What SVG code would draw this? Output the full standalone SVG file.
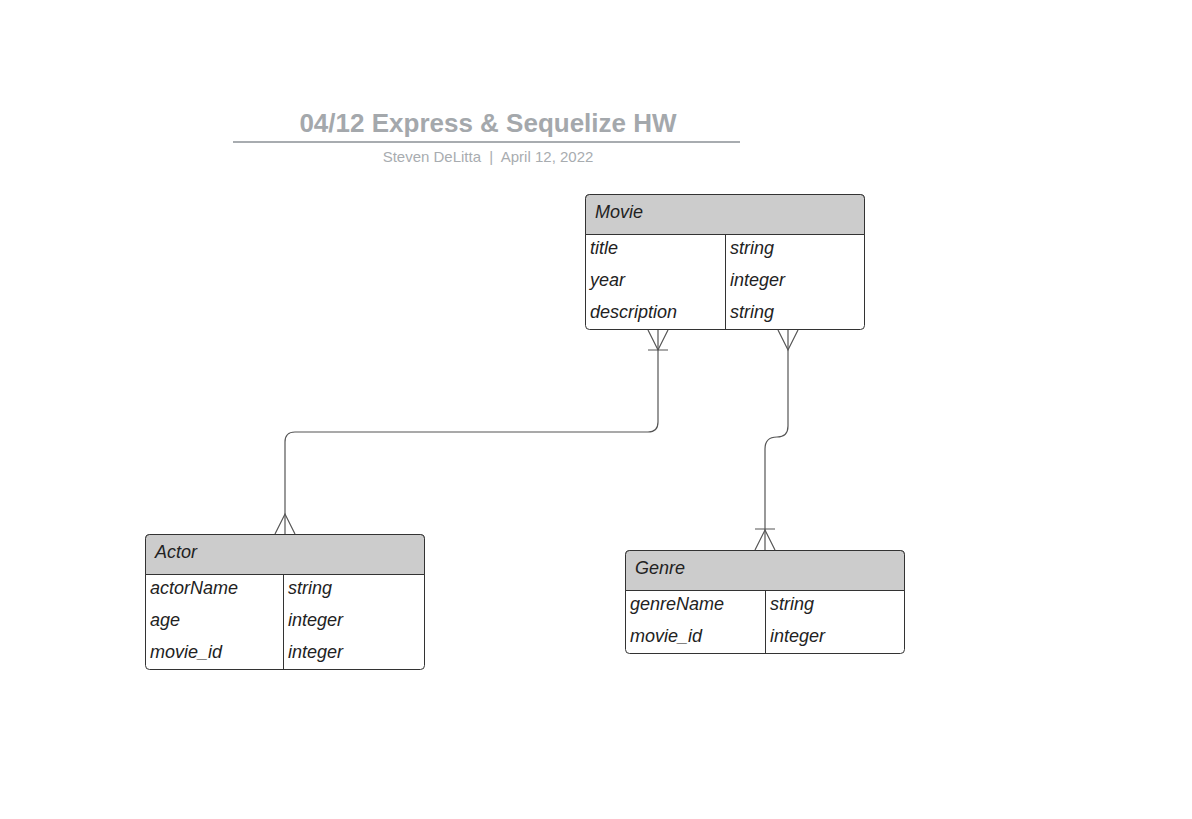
<svg xmlns="http://www.w3.org/2000/svg" width="1192" height="819" viewBox="0 0 1192 819">
<style>
.box{fill:#ffffff;stroke:#333333;stroke-width:1}
.hdr{fill:#cccccc;stroke:#333333;stroke-width:1}
.ln{stroke:#333333;stroke-width:1;fill:none}
.t{font-family:"Liberation Sans",Arial,sans-serif;font-style:italic;font-size:18px;fill:#222222}
.conn{stroke:#555555;stroke-width:1.2;fill:none}
</style>
<rect width="1192" height="819" fill="#ffffff"/>
<g id="title">
<text x="488" y="132" text-anchor="middle" font-family="Liberation Sans, Arial, sans-serif" font-weight="bold" font-size="26" fill="#a4a8ac">04/12 Express &amp; Sequelize HW</text>
<line x1="233" y1="142" x2="740" y2="142" stroke="#a8acb0" stroke-width="2"/>
<text x="488" y="162" text-anchor="middle" font-family="Liberation Sans, Arial, sans-serif" font-size="15" fill="#a8acb0" xml:space="preserve">Steven DeLitta  |  April 12, 2022</text>
</g>
<g id="movie">
<rect class="box" x="585.5" y="194.5" width="279" height="135" rx="4"/>
<path class="hdr" d="M585.5 234.5 V198.5 A4 4 0 0 1 589.5 194.5 H860.5 A4 4 0 0 1 864.5 198.5 V234.5 Z"/>
<line class="ln" x1="725.5" y1="234.5" x2="725.5" y2="329.5"/>
<text class="t" x="595" y="218">Movie</text>
<text class="t" x="590" y="254">title</text>
<text class="t" x="730" y="254">string</text>
<text class="t" x="590" y="286">year</text>
<text class="t" x="730" y="286">integer</text>
<text class="t" x="590" y="318">description</text>
<text class="t" x="730" y="318">string</text>
</g>
<g id="actor">
<rect class="box" x="145.5" y="534.5" width="279" height="135" rx="4"/>
<path class="hdr" d="M145.5 574.5 V538.5 A4 4 0 0 1 149.5 534.5 H420.5 A4 4 0 0 1 424.5 538.5 V574.5 Z"/>
<line class="ln" x1="283.5" y1="574.5" x2="283.5" y2="669.5"/>
<text class="t" x="155" y="558">Actor</text>
<text class="t" x="150" y="594">actorName</text>
<text class="t" x="288" y="594">string</text>
<text class="t" x="150" y="626">age</text>
<text class="t" x="288" y="626">integer</text>
<text class="t" x="150" y="658">movie_id</text>
<text class="t" x="288" y="658">integer</text>
</g>
<g id="genre">
<rect class="box" x="625.5" y="550.5" width="279" height="103" rx="4"/>
<path class="hdr" d="M625.5 590.5 V554.5 A4 4 0 0 1 629.5 550.5 H900.5 A4 4 0 0 1 904.5 554.5 V590.5 Z"/>
<line class="ln" x1="765.5" y1="590.5" x2="765.5" y2="653.5"/>
<text class="t" x="635" y="574">Genre</text>
<text class="t" x="630" y="610">genreName</text>
<text class="t" x="770" y="610">string</text>
<text class="t" x="630" y="642">movie_id</text>
<text class="t" x="770" y="642">integer</text>
</g>
<g id="connectors">
<path class="conn" d="M658 330 V422 Q658 432 648 432 H295 Q285 432 285 442 V534"/>
<path class="conn" d="M648 330 L658 350 L668 330 M648 350 H668"/>
<path class="conn" d="M275 534 L285 514 L295 534"/>
<path class="conn" d="M788 330 V426 Q788 437 777 437 Q765 437 765 449 V550"/>
<path class="conn" d="M778 330 L788 350 L798 330"/>
<path class="conn" d="M755 550 L765 530 L775 550 M755 529 H775"/>
</g>
</svg>
